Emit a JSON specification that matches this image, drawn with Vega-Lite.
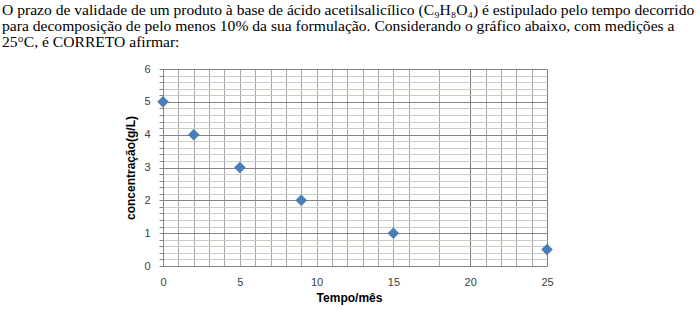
{
  "$schema": "https://vega.github.io/schema/vega-lite/v6.json",
  "autosize": "none",
  "width": 384,
  "height": 197,
  "padding": {"left": 163, "top": 69, "right": 152, "bottom": 44},
  "background": "white",
  "title": {
    "text": [
      "O prazo de validade de um produto à base de ácido acetilsalicílico (C₉H₈O₄) é estipulado pelo tempo decorrido",
      "para decomposição de pelo menos 10% da sua formulação. Considerando o gráfico abaixo, com medições a",
      "25°C, é CORRETO afirmar:"
    ],
    "anchor": "start",
    "frame": "group",
    "dx": -161,
    "offset": 12.5,
    "font": "Liberation Serif",
    "fontSize": 15.6,
    "fontWeight": "normal",
    "color": "black",
    "lineHeight": 16
  },
  "config": {
    "view": {"stroke": null},
    "axis": {
      "labelFont": "Liberation Sans",
      "labelFontSize": 11,
      "labelColor": "#404040",
      "titleFont": "Liberation Sans",
      "titleFontSize": 12,
      "titleFontWeight": "bold",
      "titleColor": "black",
      "domainColor": "#868686",
      "tickColor": "#868686",
      "gridOpacity": 1
    }
  },
  "data": {
    "values": [
      {"tempo": 0, "conc": 5},
      {"tempo": 2, "conc": 4},
      {"tempo": 5, "conc": 3},
      {"tempo": 9, "conc": 2},
      {"tempo": 15, "conc": 1},
      {"tempo": 25, "conc": 0.5}
    ]
  },
  "mark": {"type": "point", "shape": "diamond", "filled": true, "size": 121, "color": "#4a7ebb", "opacity": 1, "stroke": "#3d6ea8", "strokeWidth": 0.5},
  "encoding": {
    "x": {
      "field": "tempo",
      "type": "quantitative",
      "title": "Tempo/mês",
      "scale": {"domain": [0, 25], "nice": false, "zero": true},
      "axis": {
        "values": [0,1,2,3,4,5,6,7,8,9,10,11,12,13,14,15,16,18,20,21,22,23,24,25],
        "labelExpr": "datum.value % 5 === 0 ? format(datum.value, 'd') : ''",
        "grid": true,
        "gridColor": {"condition": {"test": "datum.value === 20 || datum.value === 25", "value": "#7b7b7b"}, "value": "#aaa4b4"},
        "ticks": false,
        "labelPadding": 10,
        "labelFlush": false,
        "labelOverlap": false,
        "titlePadding": 5,
        "titleX": 186
      }
    },
    "y": {
      "field": "conc",
      "type": "quantitative",
      "title": "concentração(g/L)",
      "scale": {"domain": [0, 6], "nice": false},
      "axis": {
        "values": [0,0.2,0.4,0.6,0.8,1,1.2,1.4,1.6,1.8,2,2.2,2.4,2.6,2.8,3,3.2,3.4,3.6,3.8,4,4.2,4.4,4.6,4.8,5,5.2,5.4,5.6,5.8,6],
        "labelExpr": "abs(datum.value - round(datum.value)) < 0.001 ? format(datum.value, 'd') : ''",
        "grid": true,
        "gridColor": {"condition": {"test": "abs(datum.value - round(datum.value)) < 0.001", "value": "#858585"}, "value": "#c8cfc3"},
        "tickSize": 4,
        "labelPadding": 9,
        "labelOverlap": false,
        "titlePadding": 6
      }
    }
  }
}
